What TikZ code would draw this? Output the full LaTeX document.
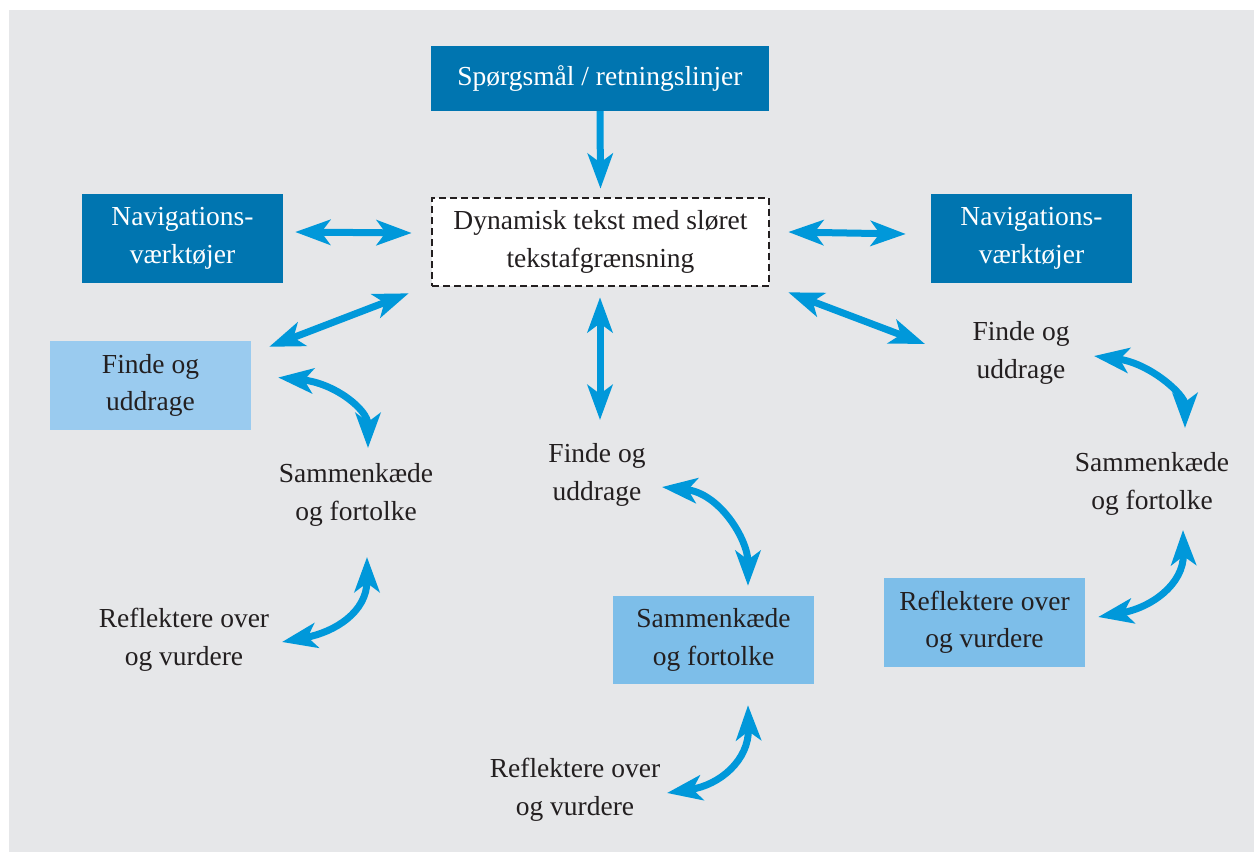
\documentclass[tikz,border=0pt]{standalone}
\usepackage{fontspec}
\setmainfont{Liberation Serif}
\usetikzlibrary{arrows.meta,calc}
\definecolor{panel}{HTML}{E6E7E9}
\definecolor{navblue}{HTML}{0075B0}
\definecolor{paleA}{HTML}{9ACBEF}
\definecolor{paleB}{HTML}{7DBEE9}
\definecolor{arrowblue}{HTML}{0098DA}
\definecolor{ink}{HTML}{231F20}
\begin{document}
\begin{tikzpicture}[x=1pt,y=-1pt,
  every node/.style={font=\fontsize{27.5}{37.5}\selectfont, align=center, text=ink, inner sep=0pt},
  navbox/.style={fill=navblue, text=white, minimum width=201pt, minimum height=89pt},
  palebox/.style={fill=#1, minimum width=201pt, minimum height=89pt},
  link/.style={draw=arrowblue, line width=7pt, {Stealth[length=35pt,width=25pt,inset=9pt]}-{Stealth[length=35pt,width=25pt,inset=9pt]}},
  oneway/.style={draw=arrowblue, line width=7pt, -{Stealth[length=35pt,width=25pt,inset=9pt]}},
]
% page and panel
\fill[white] (0,0) rectangle (1254,852);
\useasboundingbox (0,0) rectangle (1254,852);
\fill[panel] (9,10) rectangle (1254,852);

% boxes
\node[navbox, minimum width=338pt, minimum height=65pt] (q) at (600,78.5) {Spørgsmål / retningslinjer};
\node[fill=white, draw=ink, line width=2.6pt, dash pattern=on 7pt off 4pt,
      minimum width=337pt, minimum height=88pt] (dyn) at (600.5,242) {Dynamisk tekst med sløret\\tekstafgrænsning};
\node[navbox] (navL) at (182.5,238.5) {Navigations-\\værktøjer};
\node[navbox] (navR) at (1031.5,238.5) {Navigations-\\værktøjer};
\node[palebox=paleA] (findL) at (150.5,385.5) {Finde og\\uddrage};
\node[palebox=paleB, minimum height=88pt] (sumM) at (713.5,640) {Sammenkæde\\og fortolke};
\node[palebox=paleB] (refR) at (984.5,622.5) {Reflektere over\\og vurdere};

% plain labels
\node (sumL) at (356,495) {Sammenkæde\\og fortolke};
\node (refL) at (184,640) {Reflektere over\\og vurdere};
\node (findM) at (597,475) {Finde og\\uddrage};
\node (refM) at (575,790) {Reflektere over\\og vurdere};
\node (findR) at (1021,353) {Finde og\\uddrage};
\node (sumR) at (1152,484) {Sammenkæde\\og fortolke};

% straight connectors
\draw[oneway] (q.south) -- ($(dyn.north)+(0,-8)$);
\draw[link] ($(navL.east)+(12,-6.5)$) -- ($(dyn.west)+(-19,-9)$);
\draw[link] ($(dyn.east)+(18,-10)$) -- ($(navR.west)+(-25,-4.5)$);
\draw[link] ($(dyn.south west)+(-22,6)$) -- ($(findL.north east)+(18,6)$);
\draw[link] ($(dyn.south east)+(18,5)$) -- ($(findR.center)+(-96,-9)$);
\draw[link] ($(dyn.south)+(-0.5,10)$) -- ($(findM.center)+(3,-55)$);

% curved connectors, left column
\draw[link] ($(findL.east)+(27,-8)$) .. controls (335,383) and (368,410) .. ($(sumL.center)+(12,-47)$);
\draw[link] ($(sumL.center)+(11,62)$) .. controls (367,612) and (335,632) .. ($(refL.center)+(98,2)$);

% curved connectors, middle column
\draw[link] ($(findM.center)+(65,12)$) .. controls (720,493) and (748,540) .. ($(sumM.north)+(34.5,-10)$);
\draw[link] ($(sumM.south)+(34.5,21)$) .. controls (749,760) and (720,785) .. ($(refM.center)+(92,3)$);

% curved connectors, right column
\draw[link] ($(findR.center)+(73,3)$) .. controls (1150,363) and (1185,395) .. ($(sumR.center)+(33,-56)$);
\draw[link] ($(sumR.center)+(31,46)$) .. controls (1184,585) and (1150,608) .. ($(refR.east)+(13,-5.5)$);
\end{tikzpicture}
\end{document}
